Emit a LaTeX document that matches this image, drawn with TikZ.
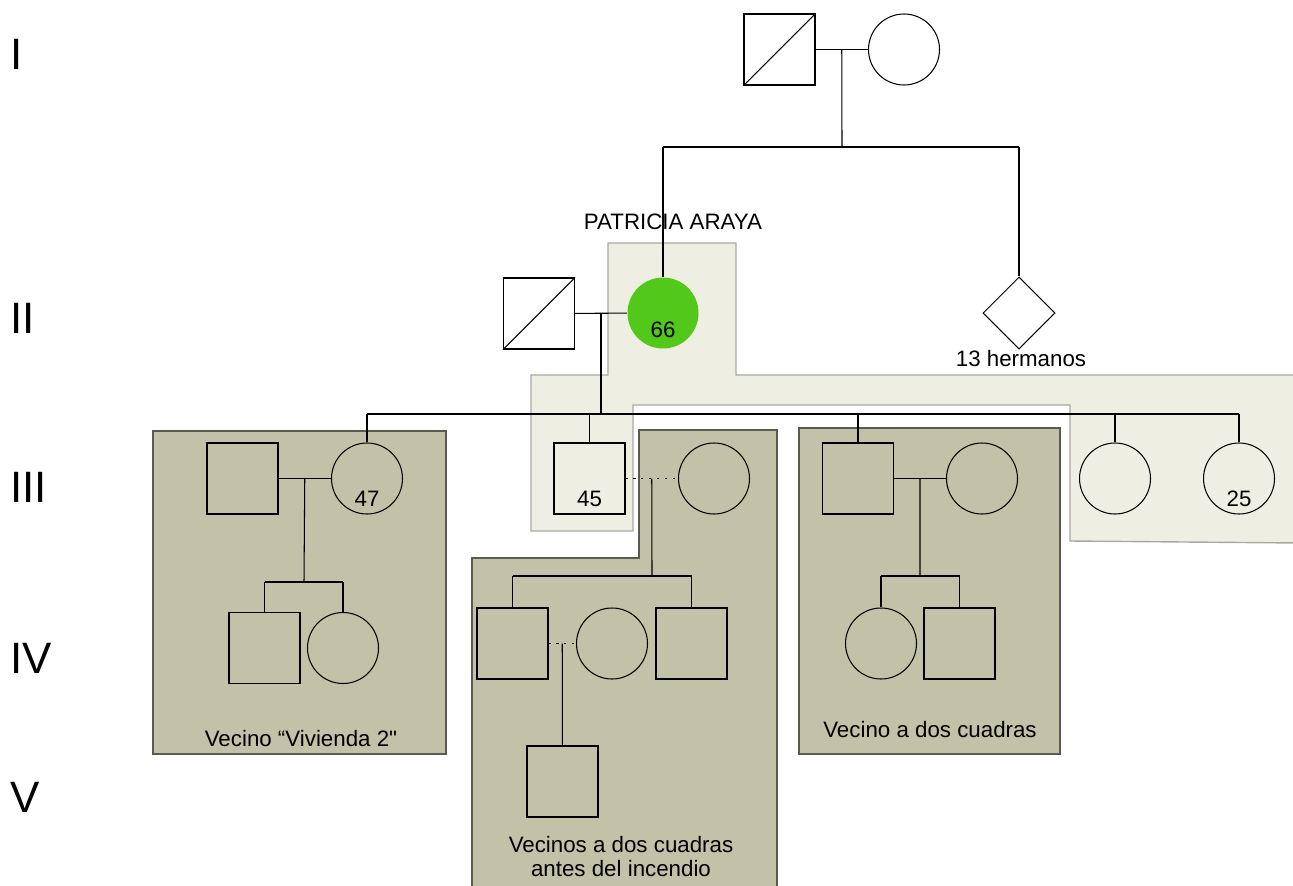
\documentclass[tikz,border=0pt]{standalone}
\usepackage{fontspec}
\setmainfont{Liberation Sans}
\newfontfamily\rectafont{Liberation Sans}
\usepackage{xcolor}
\usepackage{tikz}
\usetikzlibrary{positioning}
\usetikzlibrary{calc}
\usetikzlibrary{shapes.geometric}

\definecolor{zonaclara}{HTML}{EFEEE3}
\definecolor{bordeclaro}{HTML}{A9A9A0}
\definecolor{zonaoscura}{HTML}{C1C2A7}
\definecolor{bordeoscuro}{HTML}{5A5A52}
\definecolor{verde}{HTML}{52C81A}

\tikzset{
	hombre/.style={draw, rectangle, minimum size=1.42cm, inner sep=0pt},
	mujer/.style={draw, circle, minimum size=1.42cm, inner sep=0pt},
	indice/.style={circle, fill=verde, minimum size=1.42cm, inner sep=0pt},
	nodef/.style={draw, diamond, aspect=1, minimum size=1.44cm, inner sep=0pt},
	edad/.style={label={[anchor=south, inner sep=0pt, yshift=4pt, font=\fontsize{12.7}{15}\selectfont]south:#1}},
	texto/.style={anchor=base, inner sep=0pt, font=\fontsize{12.7}{15}\selectfont},
	gen/.style={anchor=base west, inner sep=0pt, font=\fontsize{25}{30}\selectfont},
	unido/.style={dash pattern=on 1.2pt off 3.3pt}
}

\begin{document}
\begin{tikzpicture}[x=0.02cm, y=-0.02cm, line width=0.6pt]
	\useasboundingbox (0,0) rectangle (1293,885);

	\draw[bordeclaro, fill=zonaclara, line width=0.8pt] (608,243) -- (736,243) -- (736,375) -- (1300,375) -- (1300,543) -- (1070,541) -- (1070,405) -- (633,405) -- (633,531) -- (531,531) -- (531,375) -- (608,375) -- cycle;
	\draw[bordeoscuro, fill=zonaoscura, line width=0.8pt] (153,431) rectangle (446,754);
	\draw[bordeoscuro, fill=zonaoscura, line width=0.8pt] (639,430) -- (777,430) -- (777,890) -- (472,890) -- (472,558) -- (639,558) -- cycle;
	\draw[bordeoscuro, fill=zonaoscura, line width=0.8pt] (799,428) rectangle (1060,754);

	\node[gen] (g1) at (10,70) {I};
	\node[gen] (g2) at (10,333) {II};
	\node[gen] (g3) at (10,502) {III};
	\node[gen] (g4) at (10,673) {IV};
	\node[gen] (g5) at (10,812) {V};

	\node[hombre] (abuelo) at (779.5,49.5) {};
	\node[mujer] (abuela) at (904,49.5) {};
	\draw (abuelo.south west) -- (abuelo.north east);
	\coordinate (uI) at ($(abuelo.east)!0.5!(abuela.west)$);
	\coordinate (hI) at (842,147);

	\node[hombre] (esposo) at (539,313.5) {};
	\node[indice] (patricia) at (663,313) {};
	\node[texto] (edad66) at (663,337) {66};
	\node[nodef] (hermanos) at (1019,313) {};
	\draw (esposo.south west) -- (esposo.north east);
	\node[texto] (nombre) at (673,229) {PATRICIA ARAYA};
	\node[texto] (n13) at (1021,366) {13 hermanos};
	\coordinate (uII) at ($(esposo.east)!0.5!(patricia.west)$);
	\coordinate (hII) at (601,414);

	\draw (abuelo) -- (abuela);
	\draw (uI) -- (hI);
	\draw (patricia |- hI) -- (hermanos |- hI);
	\draw (patricia |- hI) -- (patricia);
	\draw (hermanos |- hI) -- (hermanos);
	\draw (esposo) -- (patricia);
	\draw (uII) -- (hII);

	\node[hombre] (yerno47) at (242.5,478.5) {};
	\node[mujer, edad=47] (hija47) at (367,478.5) {};
	\node[hombre, edad=45] (hijo45) at (589.5,478.5) {};
	\node[mujer] (nuera45) at (714,478.5) {};
	\node[hombre] (hijo3) at (858,478.5) {};
	\node[mujer] (nuera3) at (982,478.5) {};
	\node[mujer] (hija4) at (1115,478.5) {};
	\node[mujer, edad=25] (hija25) at (1239,478.5) {};

	\draw (hija47 |- hII) -- (hija25 |- hII);
	\foreach \h in {hija47, hijo45, hijo3, hija4, hija25}
		\draw (\h |- hII) -- (\h);

	\draw (yerno47) -- (hija47);
	\coordinate (u47) at ($(yerno47.east)!0.5!(hija47.west)$);
	\coordinate (h47) at (304,582);
	\node[hombre] (nieto1) at (264.5,648) {};
	\node[mujer] (nieta1) at (343,648) {};
	\draw (u47) -- (h47);
	\draw (nieto1 |- h47) -- (nieta1 |- h47);
	\draw (nieto1 |- h47) -- (nieto1);
	\draw (nieta1 |- h47) -- (nieta1);
	\node[texto] (vec1) at (301,746) {Vecino “Vivienda 2{\rectafont"}};

	\draw[unido] (hijo45) -- (nuera45);
	\coordinate (u45) at ($(hijo45.east)!0.5!(nuera45.west)$);
	\coordinate (h45) at (652,576);
	\node[hombre] (nieto2) at (512.5,643.5) {};
	\node[mujer] (nieta2) at (612,643.5) {};
	\node[hombre] (nieto3) at (691.5,643.5) {};
	\draw (u45) -- (h45);
	\draw (nieto2 |- h45) -- (nieto3 |- h45);
	\draw (nieto2 |- h45) -- (nieto2);
	\draw (nieto3 |- h45) -- (nieto3);
	\draw[unido] (nieto2) -- (nieta2);
	\coordinate (uIV) at ($(nieto2.east)!0.5!(nieta2.west)$);
	\node[hombre] (bisnieto) at (562.5,781.5) {};
	\draw (uIV) -- (bisnieto);
	\node[texto] (vec2) at (621,852) {Vecinos a dos cuadras};
	\node[texto] (vec2b) at (621,876) {antes del incendio};

	\draw (hijo3) -- (nuera3);
	\coordinate (u3) at ($(hijo3.east)!0.5!(nuera3.west)$);
	\coordinate (h3) at (920,576);
	\node[mujer] (nieta4) at (881,643.5) {};
	\node[hombre] (nieto5) at (959.5,643.5) {};
	\draw (u3) -- (h3);
	\draw (nieta4 |- h3) -- (nieto5 |- h3);
	\draw (nieta4 |- h3) -- (nieta4);
	\draw (nieto5 |- h3) -- (nieto5);
	\node[texto] (vec3) at (930,737) {Vecino a dos cuadras};
\end{tikzpicture}
\end{document}
